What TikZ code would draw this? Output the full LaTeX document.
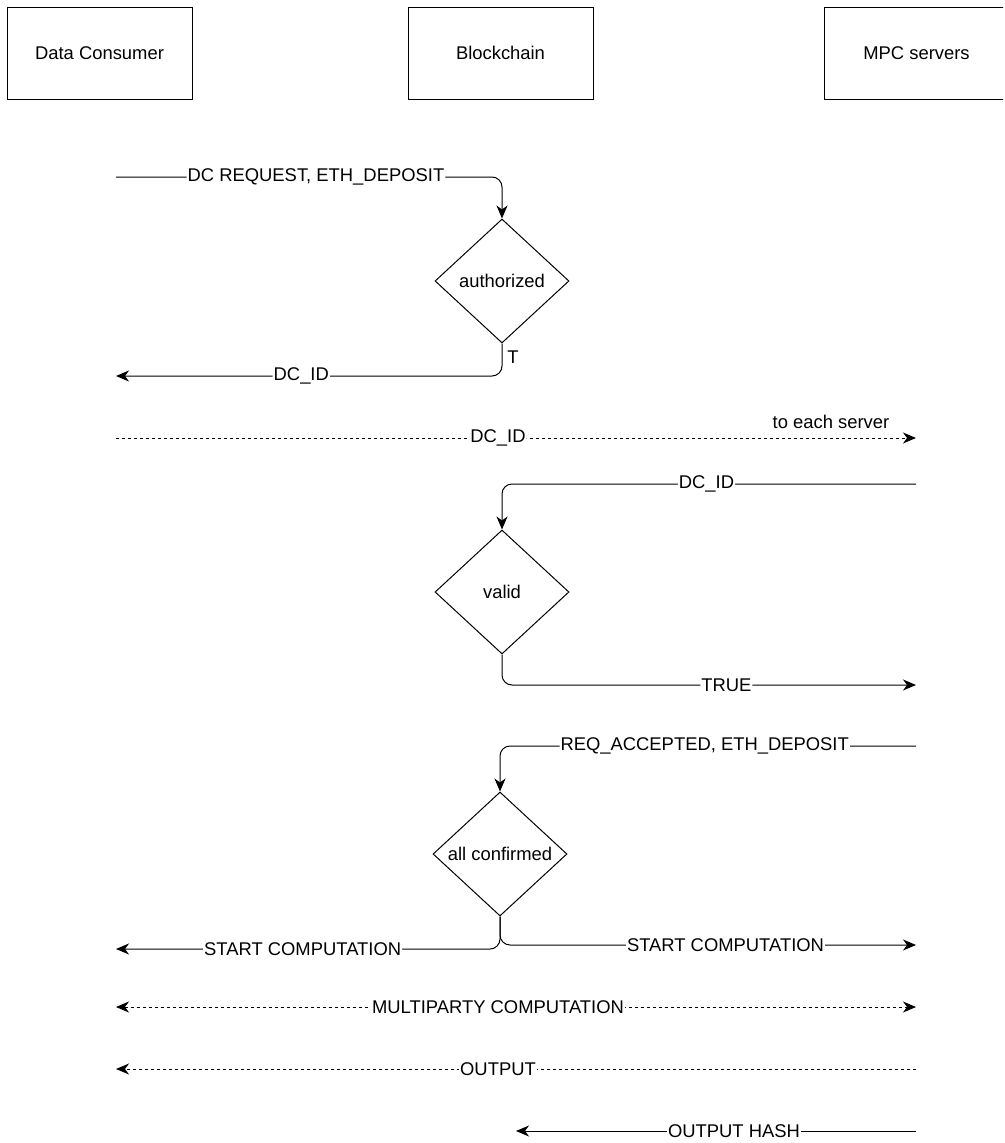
\documentclass[tikz,border=0pt]{standalone}
\usepackage{fontspec}
\setmainfont{Liberation Sans}
\usetikzlibrary{shapes.geometric,arrows.meta}
\begin{document}
\begin{tikzpicture}[x=1pt,y=-1pt,
  font=\fontsize{18.4}{21}\selectfont,
  actor/.style={draw,line width=1pt,minimum width=185pt,minimum height=92pt,inner sep=0pt},
  decision/.style={draw,diamond,line width=1pt,minimum width=134pt,minimum height=124pt,inner sep=0pt,aspect=1.08},
  tip/.tip={Stealth[length=13pt,width=11pt,inset=4pt,sharp]},
  msg/.style={line width=1pt,rounded corners=10pt,-tip},
  both/.style={line width=1pt,tip-tip},
  async/.style={dash pattern=on 3pt off 3pt},
  lbl/.style={fill=white,inner sep=1pt},
  note/.style={inner sep=0pt}]
\useasboundingbox (0,0) rectangle (1004,1143);

% participants
\begin{scope}
\clip (-1,-1) rectangle (1003.2,1143);
\node[actor] (dc)  at (99.5,53)  {Data Consumer};
\node[actor] (bc)  at (500.5,53) {Blockchain};
\node[actor] (mpc) at (916.5,53) {MPC servers};
\end{scope}

% decisions
\node[decision] (auth)  at (502,281) {authorized};
\node[decision] (valid) at (502,592) {valid};
\node[decision] (conf)  at (500,854) {all confirmed};

% free message ends
\coordinate (dcA)  at (116,177);
\coordinate (dcB)  at (116,376);
\coordinate (dcC)  at (116,438);
\coordinate (srvC) at (916,438);
\coordinate (srvD) at (916,484);
\coordinate (srvE) at (916,685);
\coordinate (srvF) at (916,746);
\coordinate (dcG)  at (116,949);
\coordinate (srvG) at (916,945);
\coordinate (dcH)  at (116,1007);
\coordinate (srvH) at (916,1007);
\coordinate (dcI)  at (116,1069);
\coordinate (srvI) at (916,1069);
\coordinate (bcJ)  at (516,1131);
\coordinate (srvJ) at (916,1131);

% request and authorization
\draw[msg] (dcA) -- node[lbl,pos=0.518]{DC REQUEST, ETH\_DEPOSIT} (dcA -| auth.north) -- (auth.north);
\draw[msg] (auth.south) |- node[lbl,pos=0.76]{DC\_ID} (dcB);
\node[note] (t) at (513,357) {T};

% id forwarded to the servers
\draw[msg,async] (dcC) -- node[lbl,pos=0.4775]{DC\_ID} (srvC);
\node[note] (each) at (831,422) {to each server};

% validation
\draw[msg] (srvD) -| node[lbl,pos=0.253]{DC\_ID} (valid.north);
\draw[msg] (valid.south) |- node[lbl,pos=0.771]{TRUE} (srvE);

% confirmation
\draw[msg] (srvF) -| node[lbl,pos=0.254]{REQ\_ACCEPTED, ETH\_DEPOSIT} (conf.north);
\draw[msg] (conf.south) |- node[lbl,pos=0.757]{START COMPUTATION} (dcG);
\draw[msg] (conf.south) |- node[lbl,pos=0.771]{START COMPUTATION} (srvG);

% computation and results
\draw[both,async] (dcH) -- node[lbl,pos=0.4775]{MULTIPARTY COMPUTATION} (srvH);
\draw[msg,async] (srvI) -- node[lbl,pos=0.5225]{OUTPUT} (dcI);
\draw[msg] (srvJ) -- node[lbl,pos=0.455]{OUTPUT HASH} (bcJ);
\end{tikzpicture}
\end{document}
